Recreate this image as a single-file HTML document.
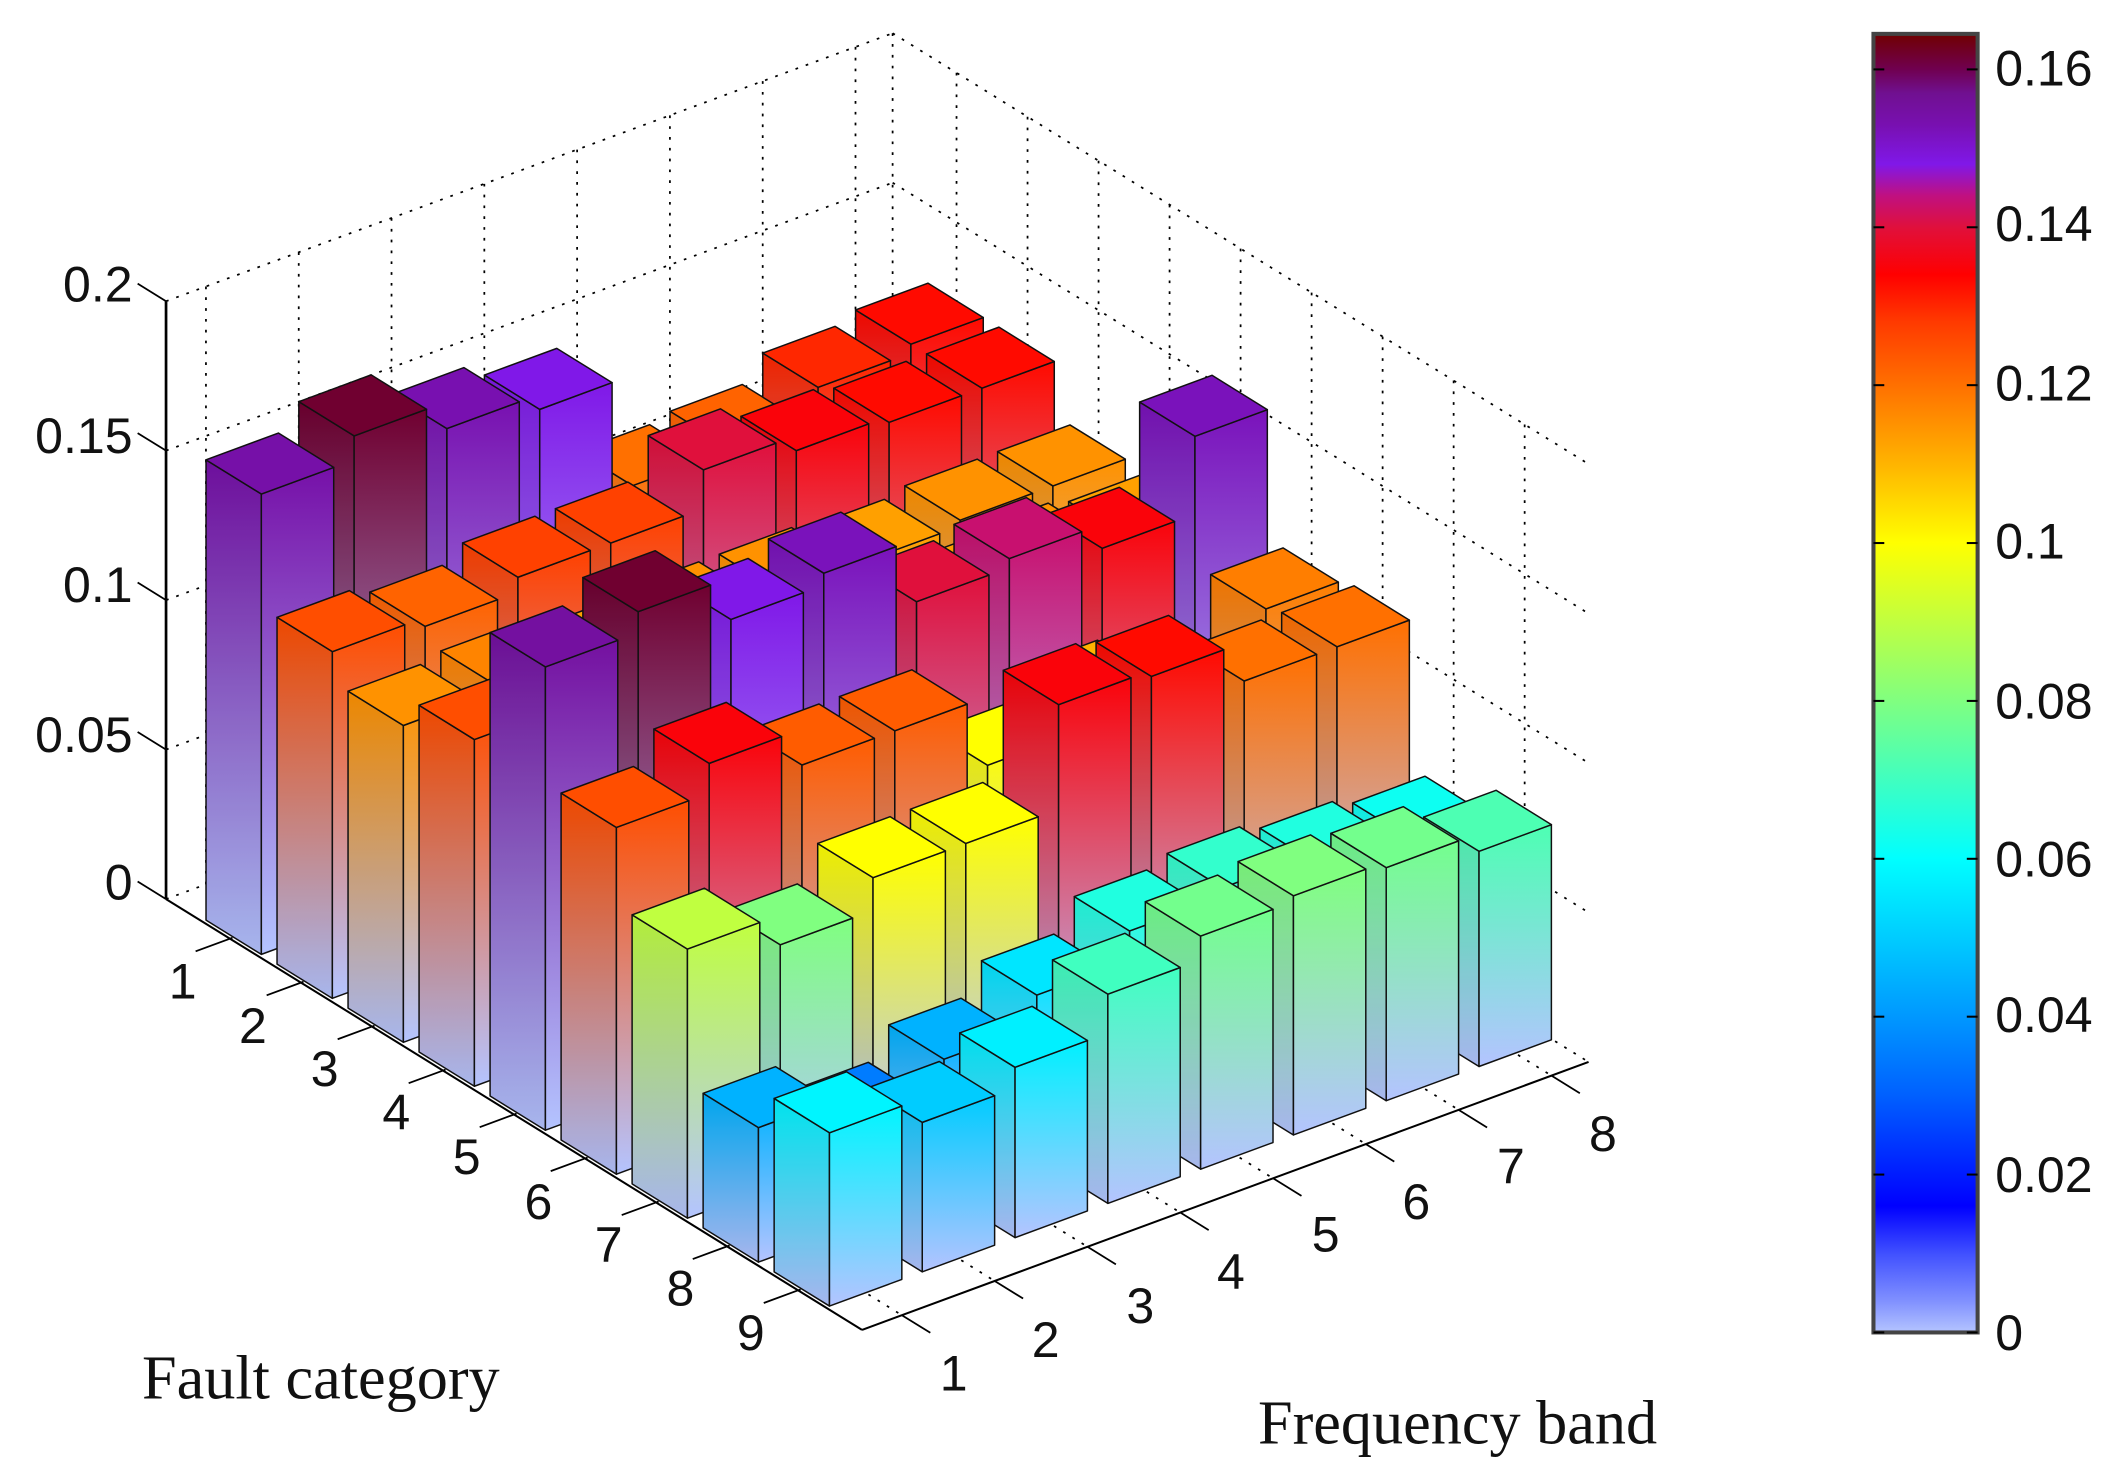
<!DOCTYPE html>
<html><head><meta charset="utf-8"><style>
html,body{margin:0;padding:0;background:#fff;}
svg{display:block;}
text{font-family:"Liberation Sans",Arial,sans-serif;}
</style></head><body>
<svg id="s" xmlns="http://www.w3.org/2000/svg" width="2121" height="1484" viewBox="0 0 1568 1097">
<defs id="d"></defs>
<g id="grid"></g>
<g id="bars"></g>
<g id="lab" font-size="37" fill="#111">
<text x="98" y="223" text-anchor="end">0.2</text>
<text x="98" y="335" text-anchor="end">0.15</text>
<text x="98" y="445" text-anchor="end">0.1</text>
<text x="98" y="556" text-anchor="end">0.05</text>
<text x="98" y="665" text-anchor="end">0</text>
<text x="135" y="738" text-anchor="middle">1</text>
<text x="187" y="771" text-anchor="middle">2</text>
<text x="240" y="803" text-anchor="middle">3</text>
<text x="293" y="835" text-anchor="middle">4</text>
<text x="345" y="868" text-anchor="middle">5</text>
<text x="398" y="901" text-anchor="middle">6</text>
<text x="450" y="933" text-anchor="middle">7</text>
<text x="503" y="965" text-anchor="middle">8</text>
<text x="555" y="998" text-anchor="middle">9</text>
<text x="705" y="1028" text-anchor="middle">1</text>
<text x="773" y="1003" text-anchor="middle">2</text>
<text x="843" y="978" text-anchor="middle">3</text>
<text x="910" y="953" text-anchor="middle">4</text>
<text x="980" y="925" text-anchor="middle">5</text>
<text x="1047" y="901" text-anchor="middle">6</text>
<text x="1117" y="875" text-anchor="middle">7</text>
<text x="1185" y="851" text-anchor="middle">8</text>
<text x="1475" y="63">0.16</text>
<text x="1475" y="178">0.14</text>
<text x="1475" y="296">0.12</text>
<text x="1475" y="413">0.1</text>
<text x="1475" y="531">0.08</text>
<text x="1475" y="648">0.06</text>
<text x="1475" y="763">0.04</text>
<text x="1475" y="881">0.02</text>
<text x="1475" y="998">0</text>
<text x="105" y="1034" font-size="46" style="font-family:'Liberation Serif',serif">Fault category</text>
<text x="930" y="1067" font-size="46" style="font-family:'Liberation Serif',serif">Frequency band</text>
</g>
<g id="cb"></g>
</svg>
<script>
var NS="http://www.w3.org/2000/svg";
function el(p,t,a){var e=document.createElementNS(NS,t);for(var k in a)e.setAttribute(k,a[k]);p.appendChild(e);return e;}
var S=[[0,'#b4c4ff'],[0.004,'#8090ff'],[0.01,'#4050ff'],[0.016,'#0000ff'],[0.03,'#0060ff'],[0.04,'#0098ff'],[0.05,'#00ccff'],[0.06,'#00ffff'],[0.07,'#40ffc0'],[0.08,'#80ff80'],[0.09,'#c0ff40'],[0.1,'#ffff00'],[0.11,'#ffb400'],[0.12,'#ff7000'],[0.128,'#ff3a00'],[0.134,'#ff0000'],[0.14,'#e0103c'],[0.144,'#c01080'],[0.148,'#8018e8'],[0.153,'#7810b0'],[0.157,'#701090'],[0.16,'#700050'],[0.165,'#700000']];
function hx(h){return [parseInt(h.substr(1,2),16),parseInt(h.substr(3,2),16),parseInt(h.substr(5,2),16)];}
function cm(v){if(v<=0)return S[0][1];for(var i=1;i<S.length;i++){if(v<=S[i][0]){var a=hx(S[i-1][1]),b=hx(S[i][1]),t=(v-S[i-1][0])/(S[i][0]-S[i-1][0]);return 'rgb('+a.map(function(x,k){return Math.round(x+(b[k]-x)*t);}).join(',')+')';}}return S[S.length-1][1];}
function P(c,b,z){return [199.5+52.5*(c-1)+68.6*(b-1),683+32.5*(c-1)-25.3*(b-1)-2210*z];}
function pts(a){return a.map(function(p){return p[0].toFixed(1)+','+p[1].toFixed(1);}).join(' ');}
var d=document.getElementById('d'),g=document.getElementById('grid'),bg=document.getElementById('bars'),cb=document.getElementById('cb');
function line(p,a,b,dash,w){el(p,'line',{x1:a[0],y1:a[1],x2:b[0],y2:b[1],stroke:'#000','stroke-width':w||1.3,'stroke-dasharray':dash||'none'});}
var DS='2 6';
for(var b=1;b<=8;b++){line(g,P(0.1,b,0),P(0.1,b,0.2),DS);}
line(g,P(0.1,8.4,0),P(0.1,8.4,0.2),DS);
for(var c=1;c<=9;c++){line(g,P(c,8.4,0),P(c,8.4,0.2),DS);}
for(var z=0;z<=0.2001;z+=0.05){line(g,P(0.1,0.57,z),P(0.1,8.4,z),DS);line(g,P(0.1,8.4,z),P(9.9,8.4,z),DS);}
for(var c=1;c<=9;c++){line(g,P(c,0.57,0),P(c,8.4,0),DS);}
for(var b=1;b<=8;b++){line(g,P(0.1,b,0),P(9.9,b,0),DS);}
line(g,P(0.1,0.57,0),P(0.1,0.57,0.2),null,2);
line(g,P(0.1,0.57,0),P(9.9,0.57,0),null,1.5);
line(g,P(9.9,0.57,0),P(9.9,8.4,0),null,1.5);
for(var z=0;z<=0.2001;z+=0.05){line(g,P(-0.3,0.57,z),P(0.1,0.57,z),null,1.3);}
for(var c=1;c<=9;c++){line(g,P(c,0.57,0),P(c,0.2,0),null,1.3);}
for(var b=1;b<=8;b++){line(g,P(9.9,b,0),P(10.3,b,0),null,1.3);}
var V=[
[.154,.162,.153,.148,.120,.122,.130,.133],
[.125,.122,.127,.127,.140,.135,.133,.133],
[.115,.117,.113,.115,.115,.113,.115,.115],
[.125,.115,.113,.115,.113,.113,.115,.113],
[.155,.162,.148,.152,.140,.143,.135,.152],
[.125,.135,.123,.123,.100,.110,.100,.118],
[.090,.080,.100,.100,.135,.133,.120,.120],
[.045,.035,.045,.055,.065,.068,.065,.062],
[.058,.050,.057,.070,.078,.080,.078,.072]];
var L=[];for(var i=0;i<9;i++)for(var j=0;j<8;j++)L.push([i+1,j+1,V[i][j]]);
L.sort(function(a,b){return (a[0]-a[1])-(b[0]-b[1])||a[0]-b[0];});
var w=0.39,k=0;
L.forEach(function(q){var c=q[0],b=q[1],v=q[2];var h=(v>0.09&&v<0.145)?v-0.009:v;k++;
 var top=cm(v),bot=S[0][1];
 var gr=el(d,'linearGradient',{id:'g'+k,x1:0,y1:1,x2:0,y2:0});
 el(gr,'stop',{offset:0,'stop-color':bot});el(gr,'stop',{offset:1,'stop-color':top});
 var st={stroke:'#111','stroke-width':1.1,'stroke-linejoin':'round'};
 var left=[P(c-w,b-w,0),P(c+w,b-w,0),P(c+w,b-w,h),P(c-w,b-w,h)];
 var front=[P(c+w,b-w,0),P(c+w,b+w,0),P(c+w,b+w,h),P(c+w,b-w,h)];
 var tp=[P(c-w,b-w,h),P(c+w,b-w,h),P(c+w,b+w,h),P(c-w,b+w,h)];
 el(bg,'polygon',Object.assign({points:pts(left),fill:'url(#g'+k+')'},st));
 el(bg,'polygon',{points:pts(left),fill:'#000','fill-opacity':0.07});
 el(bg,'polygon',Object.assign({points:pts(front),fill:'url(#g'+k+')'},st));
 el(bg,'polygon',Object.assign({points:pts(tp),fill:top},st));
});
var cg=el(d,'linearGradient',{id:'cbg',x1:0,y1:1,x2:0,y2:0});
var vmax=0.1645;
S.forEach(function(s){el(cg,'stop',{offset:Math.min(1,s[0]/vmax),'stop-color':s[1]});});
el(cb,'rect',{x:1385,y:25,width:77,height:960,fill:'url(#cbg)',stroke:'#444','stroke-width':3});
for(var t=0;t<=8;t++){var y=985-t*0.02/vmax*960;line(cb,[1385,y],[1393,y],null,1.5);line(cb,[1454,y],[1462,y],null,1.5);}
</script>
</body></html>
